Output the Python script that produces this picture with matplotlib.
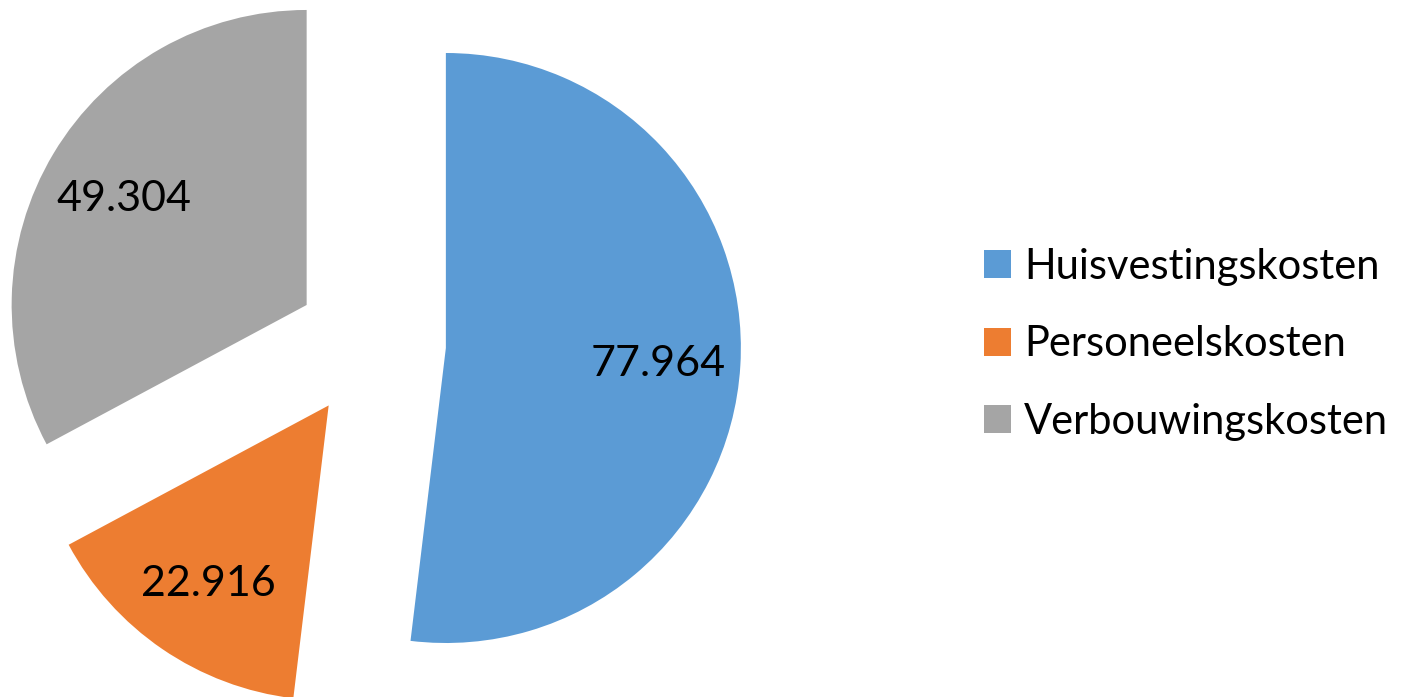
import matplotlib.pyplot as plt

# Kostenverdeling (bedragen in Nederlandse notatie)
categories = ['Huisvestingskosten', 'Personeelskosten', 'Verbouwingskosten']
values = [77.964, 22.916, 49.304]
value_labels = ['77.964', '22.916', '49.304']
colors = ['#5B9BD5', '#ED7D31', '#A5A5A5']

plt.rcParams['font.family'] = ['Lato', 'DejaVu Sans']

fig = plt.figure(figsize=(14.26, 6.97), dpi=100)
ax = fig.add_axes([0, 0, 1, 1])

# explode is in data units here (radius = 295 px)
wedges, texts = ax.pie(values, colors=colors, startangle=90, counterclock=False,
                       explode=[75] * 3, radius=295, center=(371, 353.5),
                       labels=value_labels, labeldistance=0.72,
                       textprops=dict(fontsize=31, color='black'),
                       wedgeprops=dict(linewidth=0))
for t in texts:
    t.set_horizontalalignment('center')
    t.set_verticalalignment('center_baseline')

ax.set_xlim(0, 1426)
ax.set_ylim(0, 697)
ax.set_aspect('equal')
ax.axis('off')

leg = fig.legend(wedges, categories, loc='center left', bbox_to_anchor=(0.664, 0.506),
                 frameon=False, fontsize=30, handlelength=0.65, handleheight=0.65,
                 handletextpad=0.3, labelspacing=0.95)

plt.savefig('out.png', dpi=100)
